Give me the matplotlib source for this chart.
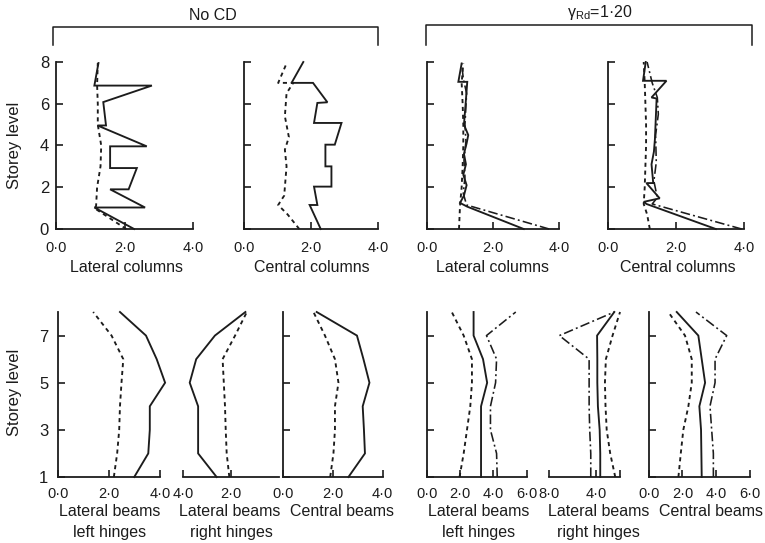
import matplotlib
matplotlib.use("Agg")
import matplotlib.pyplot as plt
from matplotlib.lines import Line2D

plt.rcParams['font.family'] = ['Liberation Sans', 'DejaVu Sans']

W, H = 765, 543
fig = plt.figure(figsize=(W / 100, H / 100), dpi=100)
fig.patch.set_facecolor('white')

INK = '#1c1c1c'
STYLES = {
    'solid': dict(ls='-', lw=1.35),
    'dashed': dict(ls=(0, (2.2, 2.0)), lw=1.35),
    'dashdot': dict(ls=(0, (6, 2, 1.2, 2)), lw=1.15),
}

# ---------------- data: columns (x = value, y = storey level) ----------------
nocd_latcol_solid_x = [2.28, 1.12, 2.60, 1.58, 2.12, 2.36, 1.58, 1.58, 2.65, 1.21, 1.46, 1.38, 2.80, 1.12, 1.24]
nocd_latcol_solid_y = [0.0, 1.03, 1.03, 1.90, 1.90, 2.92, 2.92, 3.96, 3.96, 4.96, 4.96, 6.08, 6.87, 6.87, 7.95]
nocd_latcol_dash_x = [2.05, 1.12, 1.17, 1.20, 1.30, 1.32, 1.25, 1.22, 1.22, 1.20, 1.22]
nocd_latcol_dash_y = [0.0, 1.0, 1.1, 2.0, 3.0, 4.0, 4.7, 5.0, 6.0, 6.9, 7.95]

nocd_cencol_solid_x = [2.29, 1.96, 2.19, 2.09, 2.61, 2.61, 2.43, 2.43, 2.71, 2.91, 2.09, 2.19, 2.49, 2.06, 1.42, 1.77]
nocd_cencol_solid_y = [0.0, 1.15, 1.15, 2.03, 2.03, 3.0, 3.0, 4.04, 4.04, 5.08, 5.08, 6.04, 6.07, 7.0, 7.0, 8.0]
nocd_cencol_dash_x = [1.65, 1.30, 1.02, 1.20, 1.22, 1.27, 1.22, 1.34, 1.22, 1.27, 1.47, 1.02, 1.27]
nocd_cencol_dash_y = [0.0, 0.7, 1.15, 1.6, 2.0, 3.0, 3.8, 4.4, 5.4, 6.5, 7.0, 7.0, 7.93]

g_latcol_solid_x = [2.93, 1.22, 1.00, 1.12, 1.20, 1.10, 1.18, 1.12, 1.20, 1.25, 1.12, 1.15, 1.18, 1.22, 0.95, 1.05]
g_latcol_solid_y = [0.0, 1.07, 1.25, 1.6, 2.1, 2.6, 3.1, 3.6, 4.1, 4.5, 5.0, 5.6, 6.2, 7.05, 7.05, 7.93]
g_latcol_dd_x = [3.70, 1.20, 1.10, 1.15, 1.12, 1.18, 1.15, 1.20, 1.10, 1.05]
g_latcol_dd_y = [0.0, 1.15, 1.7, 2.5, 3.3, 4.2, 5.0, 6.5, 7.2, 7.93]
g_latcol_dash_x = [0.97, 1.00, 1.05, 1.08, 1.10, 1.10, 1.08, 1.05, 1.10]
g_latcol_dash_y = [0.0, 1.1, 2.0, 3.0, 4.0, 5.0, 6.0, 7.0, 7.93]

g_cencol_solid_x = [3.17, 1.13, 1.05, 1.52, 1.13, 1.33, 1.28, 1.35, 1.38, 1.43, 1.28, 1.72, 1.03, 1.11]
g_cencol_solid_y = [0.0, 1.2, 1.3, 1.47, 2.2, 2.2, 3.1, 3.7, 4.3, 6.25, 6.3, 7.1, 7.1, 8.0]
g_cencol_dd_x = [3.93, 1.30, 1.45, 1.35, 1.42, 1.40, 1.48, 1.45, 1.30, 1.15]
g_cencol_dd_y = [0.0, 1.2, 1.5, 2.3, 3.2, 4.5, 5.5, 6.3, 7.0, 8.0]
g_cencol_dash_x = [1.23, 1.15, 1.05, 1.08, 1.10, 1.12, 1.12, 1.10, 1.08, 1.05]
g_cencol_dash_y = [0.0, 0.7, 1.2, 2.0, 3.0, 4.0, 5.0, 6.0, 7.0, 8.0]

# ---------------- data: beams (storeys 1..8) ----------------
storeys = [1, 2, 3, 4, 5, 6, 7, 8]
nocd_left_solid = [2.99, 3.54, 3.60, 3.60, 4.20, 3.87, 3.45, 2.43]
nocd_left_dash = [2.19, 2.32, 2.40, 2.43, 2.49, 2.56, 2.10, 1.38]
nocd_right_solid = [2.60, 3.37, 3.37, 3.37, 3.72, 3.45, 2.67, 1.40]
nocd_right_dash = [2.07, 2.18, 2.22, 2.25, 2.30, 2.35, 1.83, 1.34]
nocd_cen_solid = [2.63, 3.29, 3.25, 3.20, 3.47, 3.23, 2.97, 1.36]
nocd_cen_dash = [1.90, 2.03, 2.09, 2.09, 2.23, 2.09, 1.69, 1.23]

g_left_solid = [3.25, 3.25, 3.25, 3.25, 3.62, 3.37, 2.80, 2.80]
g_left_dash = [1.95, 2.20, 2.40, 2.60, 2.70, 2.70, 2.20, 1.48]
g_left_dd = [4.23, 4.19, 3.82, 3.82, 4.13, 4.19, 3.58, 5.35]
g_right_solid = [3.65, 3.65, 3.70, 3.85, 3.90, 3.90, 3.92, 2.45]
g_right_dash = [2.37, 2.80, 3.10, 3.20, 3.25, 3.17, 2.60, 1.96]
g_right_dd = [4.46, 4.46, 4.55, 4.60, 4.60, 4.60, 7.14, 2.45]
g_cen_solid = [3.14, 3.12, 3.10, 3.00, 3.34, 3.14, 2.94, 1.66]
g_cen_dash = [1.76, 1.90, 2.05, 2.35, 2.55, 2.55, 2.15, 1.16]
g_cen_dd = [3.83, 3.83, 3.73, 3.63, 3.93, 3.93, 4.62, 2.80]

col_yticks = [0, 2, 4, 6, 8]
beam_yticks = [1, 3, 5, 7]


def fx(px):
    return px / W


def fy(py):
    return 1 - py / H


def make_ax(x0, x1, ytop, ybot, xlim, ylim):
    ax = fig.add_axes([fx(x0), fy(ybot), fx(x1) - fx(x0), (ybot - ytop) / H])
    ax.set_xlim(*xlim)
    ax.set_ylim(*ylim)
    ax.patch.set_alpha(0)
    for s in ('top', 'right'):
        ax.spines[s].set_visible(False)
    for s in ('left', 'bottom'):
        ax.spines[s].set_linewidth(1.3)
        ax.spines[s].set_color(INK)
    ax.tick_params(direction='in', length=5, width=1.2, color=INK,
                   labelsize=10.5, labelcolor=INK)
    ax.tick_params(axis='x', pad=7)
    ax.tick_params(axis='y', pad=5)
    return ax


def fmt(v):
    return f"{v:.1f}".replace('.', '\u00b7')


def plot(ax, xs, ys, style):
    ax.plot(xs, ys, color=INK, clip_on=False, solid_joinstyle='miter', **STYLES[style])


# ---------------- top row ----------------
TOP, BOT = 62, 229
top_specs = [
    (56, 193, [(nocd_latcol_solid_x, nocd_latcol_solid_y, 'solid'), (nocd_latcol_dash_x, nocd_latcol_dash_y, 'dashed')], True),
    (244, 378, [(nocd_cencol_solid_x, nocd_cencol_solid_y, 'solid'), (nocd_cencol_dash_x, nocd_cencol_dash_y, 'dashed')], False),
    (427, 559, [(g_latcol_solid_x, g_latcol_solid_y, 'solid'), (g_latcol_dd_x, g_latcol_dd_y, 'dashdot'), (g_latcol_dash_x, g_latcol_dash_y, 'dashed')], False),
    (608, 744, [(g_cencol_solid_x, g_cencol_solid_y, 'solid'), (g_cencol_dd_x, g_cencol_dd_y, 'dashdot'), (g_cencol_dash_x, g_cencol_dash_y, 'dashed')], False),
]
for x0, x1, series, lab in top_specs:
    ax = make_ax(x0, x1, TOP, BOT, (0, 4), (0, 8))
    ax.set_xticks([0, 2, 4])
    ax.set_xticklabels([fmt(v) for v in [0, 2, 4]])
    ax.tick_params(axis='x', pad=9)
    ax.set_yticks(col_yticks)
    if lab:
        ax.set_yticklabels([str(v) for v in col_yticks])
        ax.tick_params(axis='y', labelsize=12)
    else:
        ax.set_yticklabels([])
    for xs, ys, st in series:
        plot(ax, xs, ys, st)

# ---------------- bottom row ----------------
BTOP, BBOT = 312, 477
bot_specs = [
    (58, 160, (0, 4), [0, 2, 4], [fmt(0), fmt(2), fmt(4)], True,
     [(nocd_left_solid, 'solid'), (nocd_left_dash, 'dashed')], None),
    (183, 279, (4, 0), [4, 2], [fmt(4), fmt(2)], None,
     [(nocd_right_solid, 'solid'), (nocd_right_dash, 'dashed')], None),
    (282.7, 382.7, (0, 4), [0, 2, 4], [fmt(0), fmt(2), fmt(4)], False,
     [(nocd_cen_solid, 'solid'), (nocd_cen_dash, 'dashed')], None),
    (427.3, 526.5, (0, 6), [0, 2, 4, 6], [fmt(0), fmt(2), fmt(4), fmt(6)], False,
     [(g_left_solid, 'solid'), (g_left_dash, 'dashed'), (g_left_dd, 'dashdot')], None),
    (549.3, 643, (8, 0), [8, 4, 2], [fmt(8), fmt(4), ''], None,
     [(g_right_solid, 'solid'), (g_right_dash, 'dashed'), (g_right_dd, 'dashdot')], (8, 2)),
    (648.7, 750, (0, 6), [0, 2, 4, 6], [fmt(0), fmt(2), fmt(4), fmt(6)], False,
     [(g_cen_solid, 'solid'), (g_cen_dash, 'dashed'), (g_cen_dd, 'dashdot')], None),
]
for x0, x1, xlim, xt, xtl, ylab, series, bounds in bot_specs:
    ax = make_ax(x0, x1, BTOP, BBOT, xlim, (1, 8))
    ax.set_xticks(xt)
    ax.set_xticklabels(xtl)
    if bounds is not None:
        ax.spines['bottom'].set_bounds(*bounds)
    if ylab is None:
        ax.spines['left'].set_visible(False)
        ax.set_yticks([])
    else:
        ax.set_yticks(beam_yticks)
        if ylab:
            ax.set_yticklabels([str(v) for v in beam_yticks])
            ax.tick_params(axis='y', labelsize=12, pad=7)
        else:
            ax.set_yticklabels([])
    for vals, st in series:
        plot(ax, vals, storeys, st)

# ---------------- texts ----------------
def ftext(px, py, s, **kw):
    kw.setdefault('fontsize', 11.5)
    kw.setdefault('color', INK)
    fig.text(fx(px), fy(py), s, ha='center', va='center', **kw)


ftext(15, 145, 'Storey level', rotation=90, fontsize=12)
ftext(15, 392, 'Storey level', rotation=90, fontsize=12)

ftext(127, 267, 'Lateral columns')
ftext(312, 267, 'Central columns')
ftext(492, 267, 'Lateral columns')
ftext(678, 267, 'Central columns')

ftext(110, 512, 'Lateral beams')
ftext(110, 532, 'left hinges')
ftext(230, 512, 'Lateral beams')
ftext(231, 532, 'right hinges')
ftext(342, 512, 'Central beams')
ftext(479, 512, 'Lateral beams')
ftext(479, 532, 'left hinges')
ftext(599, 512, 'Lateral beams')
ftext(598, 532, 'right hinges')
ftext(711, 512, 'Central beams')

ftext(213, 15, 'No CD')
ftext(600, 12, 'γ$_{\\mathregular{Rd}}$=1\u00b720')

# brackets
for xa, xb, yb in [(53, 378, 27), (426, 752, 25)]:
    fig.add_artist(Line2D([fx(xa), fx(xa), fx(xb), fx(xb)],
                          [fy(45), fy(yb), fy(yb), fy(45)],
                          color=INK, lw=1.1, transform=fig.transFigure))

fig.savefig('out.png', dpi=100, facecolor='white')
